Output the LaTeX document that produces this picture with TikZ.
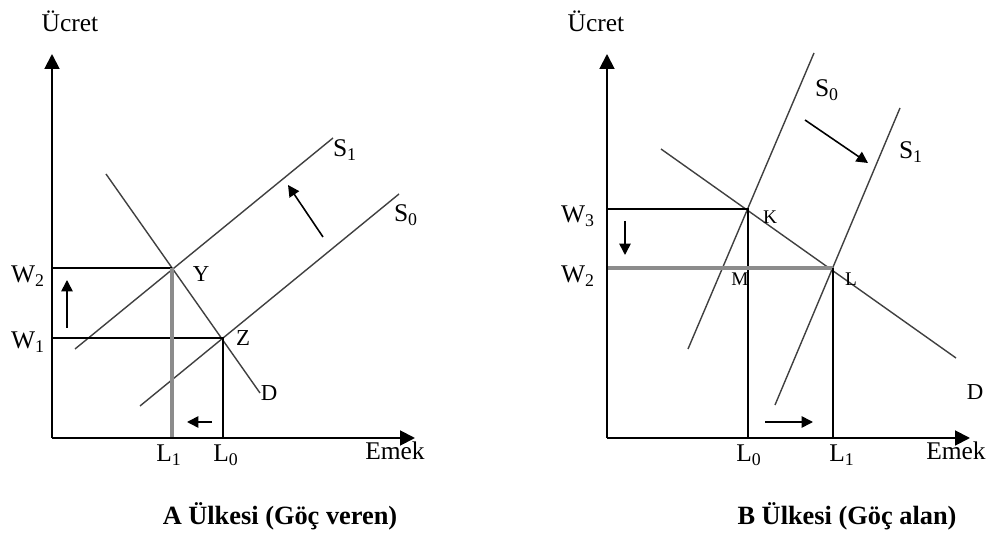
\documentclass[tikz,border=0pt]{standalone}
\usepackage{fontspec}
\setmainfont{Liberation Serif}
\usetikzlibrary{arrows.meta}
\tikzset{
  axis/.style={line width=1.1pt, -{Triangle[length=8.5pt,width=8.5pt]}},
  curve/.style={line width=0.8pt, black!75},
  guide/.style={line width=0.8pt},
  guidegray/.style={line width=1.8pt, black!45},
  movearrow/.style={line width=0.9pt, -{Triangle[length=6.5pt,width=6.5pt]}},
  lblbig/.style={font=\fontsize{14.5}{16}\selectfont, inner sep=0pt, anchor=base},
  lblmid/.style={font=\fontsize{13}{15}\selectfont, inner sep=0pt, anchor=base},
  lblsmall/.style={font=\fontsize{11}{13}\selectfont, inner sep=0pt, anchor=base},
  lbltitle/.style={font=\fontsize{15}{17}\selectfont\bfseries, inner sep=0pt, anchor=base}
}

\begin{document}
\begin{tikzpicture}[x=0.02cm, y=0.02cm]
  \useasboundingbox (0,0) rectangle (992,538);

  % A Ulkesi
  \coordinate (OA) at (52,100);
  \coordinate (TA) at (52,484);
  \coordinate (EA) at (415,100);
  \coordinate (Y) at (172,270);
  \coordinate (Z) at (223,200);

  \coordinate (DA1) at (106,364);
  \coordinate (DA2) at (260,145);
  \coordinate (SA1a) at (75,189);
  \coordinate (SA1b) at (333,400);
  \coordinate (SA0a) at (140,132);
  \coordinate (SA0b) at (399,344);

  \draw[curve] (DA1) -- (DA2);
  \draw[curve] (SA1a) -- (SA1b);
  \draw[curve] (SA0a) -- (SA0b);

  \draw[guide] (OA |- Y) -- (Y);
  \draw[guide] (OA |- Z) -- (Z) -- (Z |- OA);
  \draw[guidegray] (Y) -- (Y |- OA);

  \draw[axis] (OA) -- (TA);
  \draw[axis] (OA) -- (EA);

  \draw[movearrow] (67,210) -- (67,258);
  \draw[movearrow] (212,116) -- (187,116);
  \draw[movearrow] (323,301) -- (288,353);

  \node[lblbig] (ucretA) at (70,506) {Ücret};
  \node[lblbig] (emekA) at (395,78) {Emek};
  \node[lblbig] (wA2) at (28,255) {W\textsubscript{2}};
  \node[lblbig] (wA1) at (28,189) {W\textsubscript{1}};
  \node[lblbig] (lA1) at (169,76) {L\textsubscript{1}};
  \node[lblbig] (lA0) at (226,76) {L\textsubscript{0}};
  \node[lblbig] (sA1) at (345,381) {S\textsubscript{1}};
  \node[lblbig] (sA0) at (406,316) {S\textsubscript{0}};
  \node[lblmid] (yA) at (201,256) {Y};
  \node[lblmid] (zA) at (243,192) {Z};
  \node[lblmid] (dA) at (269,137) {D};
  \node[lbltitle] (titleA) at (280,13) {A Ülkesi (Göç veren)};

  % B Ulkesi
  \coordinate (OB) at (607,100);
  \coordinate (TB) at (607,484);
  \coordinate (EB) at (970,100);
  \coordinate (K) at (748,329);
  \coordinate (L) at (833,270);

  \coordinate (DB1) at (661,389);
  \coordinate (DB2) at (956,180);
  \coordinate (SB0a) at (688,189);
  \coordinate (SB0b) at (814,485);
  \coordinate (SB1a) at (775,133);
  \coordinate (SB1b) at (900,430);

  \draw[curve] (DB1) -- (DB2);
  \draw[curve] (SB0a) -- (SB0b);
  \draw[curve] (SB1a) -- (SB1b);

  \draw[guide] (OB |- K) -- (K) -- (K |- OB);
  \draw[guidegray] (OB |- L) -- (L);
  \draw[guide] (L) -- (L |- OB);

  \draw[axis] (OB) -- (TB);
  \draw[axis] (OB) -- (EB);

  \draw[movearrow] (625,317) -- (625,283);
  \draw[movearrow] (765,116) -- (813,116);
  \draw[movearrow] (805,418) -- (868,375);

  \node[lblbig] (ucretB) at (596,506) {Ücret};
  \node[lblbig] (emekB) at (956,78) {Emek};
  \node[lblbig] (wB3) at (578,315) {W\textsubscript{3}};
  \node[lblbig] (wB2) at (578,255) {W\textsubscript{2}};
  \node[lblbig] (lB0) at (749,76) {L\textsubscript{0}};
  \node[lblbig] (lB1) at (842,76) {L\textsubscript{1}};
  \node[lblbig] (sB0) at (827,441) {S\textsubscript{0}};
  \node[lblbig] (sB1) at (911,379) {S\textsubscript{1}};
  \node[lblsmall] (kB) at (770,314) {K};
  \node[lblsmall] (mB) at (740,252) {M};
  \node[lblsmall] (lB) at (851,252) {L};
  \node[lblmid] (dB) at (975,138) {D};
  \node[lbltitle] (titleB) at (847,13) {B Ülkesi (Göç alan)};
\end{tikzpicture}
\end{document}
